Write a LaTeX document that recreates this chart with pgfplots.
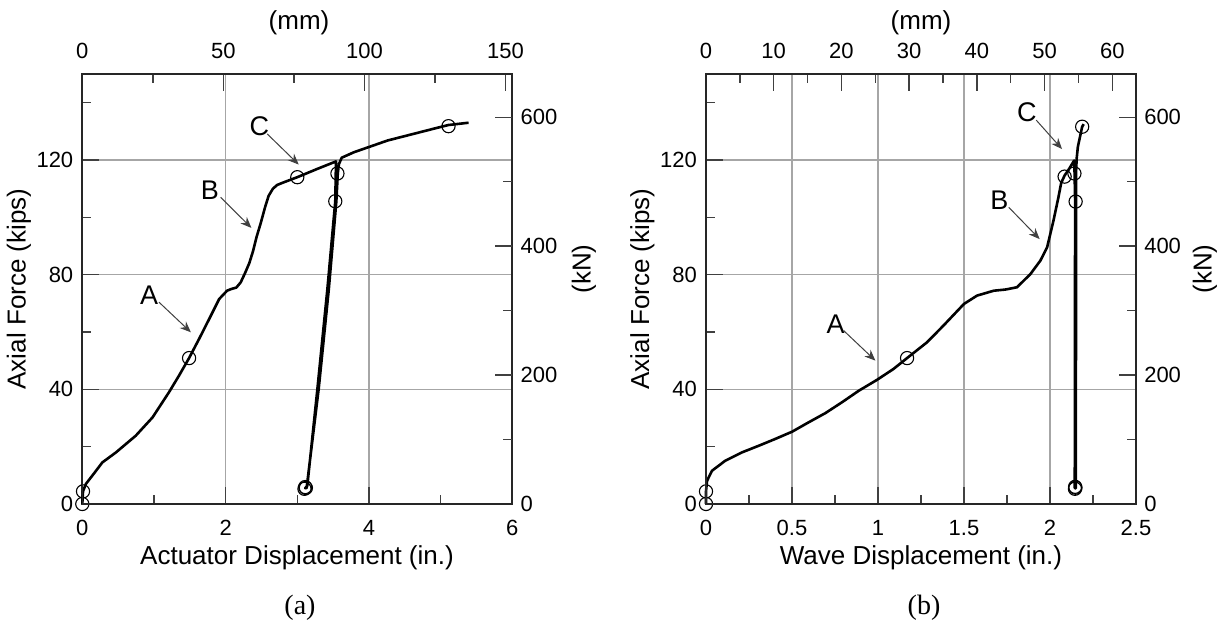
\documentclass[border=0pt]{standalone}
\usepackage{pgfplots}
\pgfplotsset{compat=1.18}
\usepackage{fontspec}
\setmainfont{Liberation Sans}
\newfontfamily\serif{Liberation Serif}
\usetikzlibrary{arrows.meta}
\newcommand\tck{\fontsize{11}{13}\selectfont}
\newcommand\lab{\fontsize{13}{15}\selectfont}
\newcommand\ann{\fontsize{13.5}{15}\selectfont}
\tikzset{arr/.style={draw=black!75, line width=0.5pt, -{Stealth[length=5.5pt,width=4.5pt]}}}
\pgfplotsset{
  base/.style={
    scale only axis, width=215pt, height=215pt,
    ymin=0, ymax=150, clip=false,
    axis line style={line width=0.8pt, black!85},
    tick align=inside,
    major tick length=8.5pt, minor tick length=4.5pt,
    tick style={line width=0.7pt, black!75},
    tick label style={font=\tck},
    major grid style={line width=0.8pt, black!35},
    /pgf/number format/assume math mode=true,
  },
  lower/.style={
    ytick={0,40,80,120}, minor ytick={20,60,100,140},
    xmajorgrids, ymajorgrids,
    xtick pos=left, ytick pos=left,
    xticklabel style={yshift=-4.6pt},
    yticklabel style={xshift=-1pt},
  },
  upper/.style={
    ymin=0, ymax=667.23,
    ytick={0,200,400,600}, minor ytick={100,300,500},
    xtick pos=right, ytick pos=right,
    xticklabel pos=right, yticklabel pos=right,
    xticklabel style={yshift=4pt},
    yticklabel style={xshift=0.6pt},
  },
  curve/.style={black, line width=1.3pt, line join=round, no marks},
  circ/.style={only marks, mark=o, mark size=3.3pt, mark options={line width=0.55pt, black}},
}
\begin{document}
\begin{tikzpicture}
\path[use as bounding box] (0,0) rectangle (612.5pt,312pt);

% ---------------- panel (a) ----------------
\begin{axis}[base, lower, at={(41.15pt,60pt)}, anchor=south west,
  xmin=0, xmax=6, xtick={0,2,4,6}, minor xtick={1,3,5}]
\addplot[curve] coordinates {
 (0,0) (0.01,4.4) (0.05,7) (0.14,9.9) (0.28,14.5) (0.47,18.0) (0.745,23.8)
 (0.98,30.2) (1.21,39.0) (1.35,44.8) (1.49,50.9) (1.63,57.6) (1.77,64.5)
 (1.91,71.5) (2.02,74.4) (2.08,75.0) (2.15,75.5) (2.21,77.3) (2.27,80.5)
 (2.33,84) (2.38,88) (2.43,93) (2.49,98) (2.55,103.5) (2.60,107.5)
 (2.66,110) (2.72,111.3) (2.81,112.2) (3.00,114.0) (3.28,116.9) (3.54,119.5)
 (3.53,105.6) (3.42,75) (3.28,40) (3.14,6.4) (3.11,5.5)
 (3.13,5.6) (3.30,40.5) (3.44,75) (3.545,105.6) (3.565,115.3) (3.58,118.5)
 (3.62,120.8) (3.79,122.7) (4.26,126.8) (4.98,131.4) (5.11,132.2) (5.39,133.0)
};
\addplot[circ] coordinates {
 (0,0) (0.01,4.4) (1.49,50.9) (3.00,114.0) (3.56,115.3) (3.53,105.6)
 (5.11,131.8) (3.10,5.3) (3.12,5.6) (3.11,5.9)
};
\node[font=\ann] at (axis cs:0.933,72.7) {A};
\draw[arr] (axis cs:1.07,70.4) -- (axis cs:1.515,59.9);
\node[font=\ann] at (axis cs:1.78,109.4) {B};
\draw[arr] (axis cs:1.93,107.0) -- (axis cs:2.36,96.3);
\node[font=\ann] at (axis cs:2.47,131.7) {C};
\draw[arr] (axis cs:2.58,129.1) -- (axis cs:3.02,118.4);
\end{axis}
\begin{axis}[base, upper, at={(41.15pt,60pt)}, anchor=south west,
  xmin=0, xmax=152.4, xtick={0,50,100,150}, minor xtick={25,75,125}]
\end{axis}

% ---------------- panel (b) ----------------
\begin{axis}[base, lower, at={(353pt,60pt)}, anchor=south west,
  xmin=0, xmax=2.5, xtick={0,0.5,1,1.5,2,2.5}, minor xtick={0.25,0.75,1.25,1.75,2.25}]
\addplot[curve] coordinates {
 (0,0) (0,4.4) (0.006,8.1) (0.035,11.6) (0.112,15.1) (0.209,18.0) (0.306,20.3)
 (0.403,22.7) (0.5,25.2) (0.597,28.5) (0.694,31.7) (0.791,35.5) (0.888,39.5)
 (0.994,43.3) (1.09,47.1) (1.169,50.9) (1.285,56.4) (1.38,62.2) (1.50,69.8)
 (1.576,72.7) (1.673,74.4) (1.74,74.8) (1.808,75.6) (1.886,80.2) (1.944,84.9)
 (1.983,89.5) (2.02,98.8) (2.049,107.0) (2.065,112) (2.085,114.6) (2.11,116.8)
 (2.14,119.8) (2.143,115.3) (2.146,105.5) (2.145,60) (2.144,5.5)
 (2.150,5.5) (2.151,60) (2.151,115) (2.155,120.5) (2.162,124.6) (2.187,131.6) (2.196,132.5)
};
\addplot[circ] coordinates {
 (0,0) (0,4.4) (1.169,50.9) (2.085,114.2) (2.142,115.3) (2.149,105.5)
 (2.187,131.6) (2.145,5.3) (2.148,5.7) (2.146,6.0)
};
\node[font=\ann] at (axis cs:0.753,62.8) {A};
\draw[arr] (axis cs:0.80,60.5) -- (axis cs:0.985,50.0);
\node[font=\ann] at (axis cs:1.706,105.8) {B};
\draw[arr] (axis cs:1.76,103.5) -- (axis cs:1.94,92.4);
\node[font=\ann] at (axis cs:1.866,136.6) {C};
\draw[arr] (axis cs:1.92,133.9) -- (axis cs:2.07,123.8);
\end{axis}
\begin{axis}[base, upper, at={(353pt,60pt)}, anchor=south west,
  xmin=0, xmax=63.5, xtick={0,10,20,30,40,50,60}, minor xtick={5,15,25,35,45,55}]
\end{axis}

% ---------------- labels ----------------
\node[rotate=90, font=\lab] at (9.5pt,167.5pt) {Axial Force (kips)};
\node[rotate=90, font=\lab] at (292pt,177.5pt) {(kN)};
\node[font=\lab] at (149.5pt,300.5pt) {(mm)};
\node[font=\lab, anchor=base] at (148.5pt,29.5pt) {Actuator Displacement (in.)};
\node[font=\serif\fontsize{14}{16}\selectfont, anchor=base] at (150pt,4.5pt) {(a)};

\node[rotate=90, font=\lab] at (321.25pt,167.5pt) {Axial Force (kips)};
\node[rotate=90, font=\lab] at (602.5pt,177.5pt) {(kN)};
\node[font=\lab] at (460.5pt,300.5pt) {(mm)};
\node[font=\lab, anchor=base] at (460.5pt,29.5pt) {Wave Displacement (in.)};
\node[font=\serif\fontsize{14}{16}\selectfont, anchor=base] at (462pt,4.5pt) {(b)};
\end{tikzpicture}
\end{document}
